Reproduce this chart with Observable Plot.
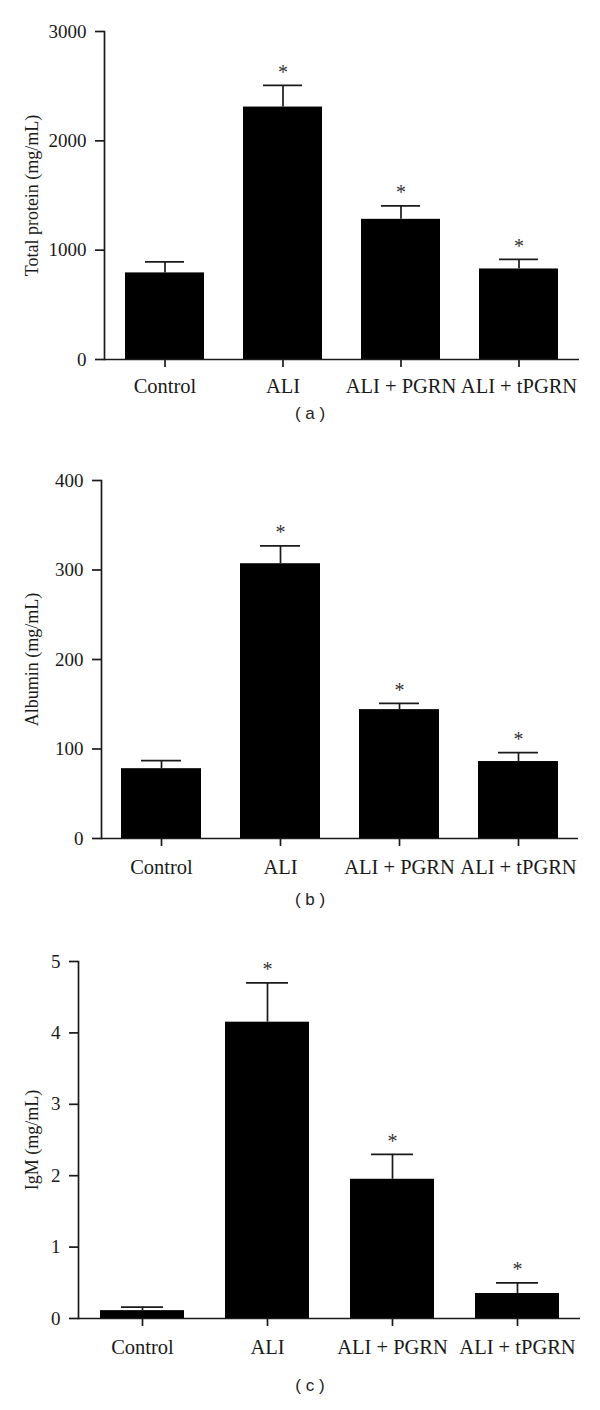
<!DOCTYPE html>
<html><head><meta charset="utf-8">
<script src="https://cdn.jsdelivr.net/npm/d3@7"></script>
<script src="https://cdn.jsdelivr.net/npm/@observablehq/plot@0.6"></script>
<style>
body{margin:0;background:#fff}
#root{position:relative;width:600px;height:1410px;overflow:hidden;background:#fff}
#root svg{position:absolute;left:0}
#root svg g[aria-label="y-axis label"] text{font-size:18px}
.cap{position:absolute;width:100px;text-align:center;font-family:"Liberation Sans",Arial,sans-serif;font-size:17px;color:#222;line-height:20px;white-space:pre}
</style></head><body><div id="root"></div>
<script>
// Categories
const groups = ["Control", "ALI", "ALI + PGRN", "ALI + tPGRN"];
const significant = [false, true, true, true];

// (a) Total protein (mg/mL)
const protein = [792, 2309, 1282, 828];
const proteinErr = [101, 198, 124, 87];
const proteinTicks = [0, 1000, 2000, 3000];

// (b) Albumin (mg/mL)
const albumin = [78, 307, 144, 86];
const albuminErr = [9, 20, 7, 10];
const albuminTicks = [0, 100, 200, 300, 400];

// (c) IgM (mg/mL)
const igm = [0.11, 4.15, 1.95, 0.35];
const igmErr = [0.05, 0.55, 0.35, 0.15];
const igmTicks = [0, 1, 2, 3, 4, 5];

const root = document.getElementById("root");
const INK = "#1a1a1a";
const SW = 1.7;

function panel(o) {
  const data = groups.map((g, i) => ({group: g, value: o.values[i], upper: o.values[i] + o.errs[i], sig: significant[i]}));
  const chart = Plot.plot({
    width: 600, height: o.height,
    marginTop: o.marginTop, marginLeft: o.marginLeft, marginRight: o.marginRight, marginBottom: o.marginBottom,
    style: {fontFamily: "'Liberation Serif', 'Times New Roman', serif", fontSize: "19px", color: INK, background: "transparent"},
    x: {domain: groups, paddingInner: 0.33, paddingOuter: 0.165, axis: null},
    y: {domain: [0, o.ticks[o.ticks.length - 1]], axis: null},
    marks: [
      Plot.barY(data, {x: "group", y: "value", fill: "#000"}),
      Plot.ruleX(data, {x: "group", y1: "value", y2: "upper", stroke: INK, strokeWidth: SW}),
      Plot.tickY(data, {x: "group", y: "upper", stroke: INK, strokeWidth: SW, insetLeft: o.capInset, insetRight: o.capInset}),
      Plot.text(data.filter(d => d.sig), {x: "group", y: "upper", text: () => "*", dy: -13, fontSize: 20, fill: "#333"}),
      Plot.axisY({ticks: o.ticks, tickFormat: "d", tickSize: 9, tickPadding: 9, strokeWidth: SW,
                  label: o.label, labelArrow: "none", labelAnchor: "center", labelOffset: o.labelOffset}),
      Plot.axisX({tickSize: 8, tickPadding: o.tickPad, strokeWidth: SW, label: null, fontSize: 20.5}),
      Plot.ruleY([0], {stroke: INK, strokeWidth: SW}),
      Plot.frame({anchor: "left", stroke: INK, strokeWidth: SW})
    ]
  });
  chart.style.top = o.top + "px";
  root.appendChild(chart);
  const cap = document.createElement("div");
  cap.className = "cap";
  cap.textContent = o.caption;
  cap.style.left = (o.capX - 50) + "px";
  cap.style.top = (o.capY - 10) + "px";
  root.appendChild(cap);
}

panel({values: protein, errs: proteinErr, ticks: proteinTicks, label: "Total protein (mg/mL)",
  top: 0, height: 400, marginTop: 31, marginBottom: 41, marginLeft: 104, marginRight: 21,
  tickPad: 11, labelOffset: 79, capInset: 20, caption: "( a )", capX: 310, capY: 414});
panel({values: albumin, errs: albuminErr, ticks: albuminTicks, label: "Albumin (mg/mL)",
  top: 440, height: 443, marginTop: 40, marginBottom: 45, marginLeft: 101, marginRight: 22,
  tickPad: 13, labelOffset: 76, capInset: 20, caption: "( b )", capX: 310, capY: 900});
panel({values: igm, errs: igmErr, ticks: igmTicks, label: "IgM (mg/mL)",
  top: 925, height: 438, marginTop: 36, marginBottom: 45, marginLeft: 78, marginRight: 20,
  tickPad: 13, labelOffset: 53, capInset: 21, caption: "( c )", capX: 310, capY: 1386});
</script></body></html>
